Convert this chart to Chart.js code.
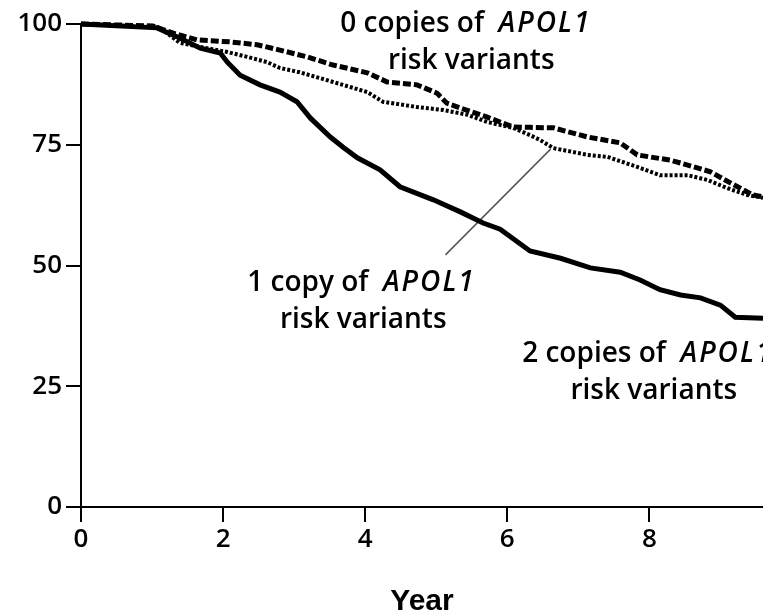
<!DOCTYPE html>
<html>
<head>
<meta charset="utf-8">
<script src="https://cdn.jsdelivr.net/npm/chart.js@4/dist/chart.umd.min.js"></script>
<style>
  body { margin: 0; background: #fff; }
  #caja { width: 763px; height: 616px; position: relative; }
</style>
</head>
<body>
<div id="caja"><canvas id="grafico"></canvas></div>
<script>
// Ejes
const xTicks = [0, 2, 4, 6, 8];
const yTicks = [0, 25, 50, 75, 100];

// 0 copias (línea discontinua)
const anios0 = [0, 1.01, 1.30, 1.63, 2.10, 2.48, 2.80, 3.18, 3.55, 4.03, 4.31, 4.73, 5.01, 5.15, 5.34, 5.72, 6.08, 6.32, 6.65, 7.13, 7.59, 7.83, 8.30, 8.54, 8.86, 9.14, 9.46, 9.6];
const valores0 = [100, 99.6, 98.1, 96.7, 96.3, 95.7, 94.6, 93.2, 91.5, 89.9, 88, 87.4, 85.7, 83.6, 82.6, 80.7, 78.7, 78.6, 78.5, 76.6, 75.4, 72.9, 71.8, 70.8, 69.4, 67.1, 64.6, 64.2];

// 1 copia (línea punteada)
const anios1 = [0, 1.10, 1.39, 1.77, 2.06, 2.34, 2.62, 2.80, 3.08, 3.55, 4.03, 4.25, 4.73, 5.10, 5.44, 5.72, 6.08, 6.32, 6.46, 6.65, 7.13, 7.41, 7.83, 8.15, 8.54, 8.82, 9.10, 9.38, 9.6];
const valores1 = [100, 99.3, 96.1, 95, 94.2, 93.2, 92.1, 90.9, 90, 88, 85.9, 83.9, 82.8, 82.2, 81.2, 79.7, 78.5, 77, 76, 74.3, 72.9, 72.5, 70.4, 68.7, 68.7, 67.7, 66, 64.6, 64];

// 2 copias (línea continua)
const anios2 = [0, 1.07, 1.39, 1.68, 1.96, 2.06, 2.24, 2.52, 2.80, 3.04, 3.23, 3.51, 3.69, 3.89, 4.21, 4.49, 4.96, 5.34, 5.66, 5.90, 6.32, 6.75, 7.17, 7.59, 7.87, 8.15, 8.44, 8.72, 9.00, 9.21, 9.6];
const valores2 = [100, 99.2, 97.1, 95, 94, 92.1, 89.4, 87.4, 85.9, 83.9, 80.5, 76.6, 74.5, 72.3, 69.8, 66.3, 63.6, 61.1, 58.8, 57.5, 53, 51.5, 49.5, 48.6, 47, 45, 43.9, 43.3, 41.8, 39.3, 39.1];

// Línea guía de la etiqueta "1 copy"
const guiaX = [5.13, 6.61];
const guiaY = [52.2, 74.1];

// Etiquetas: [texto normal, texto en cursiva, año, valor]
const etiquetas = [
  ["0 copies of  ", "APOL1", 3.65, 100.0],
  ["risk variants", "", 4.32, 92.3],
  ["1 copy of  ", "APOL1", 2.34, 46.4],
  ["risk variants", "", 2.80, 38.7],
  ["2 copies of  ", "APOL1", 6.21, 31.7],
  ["risk variants", "", 6.89, 24.0]
];

function puntos(xs, ys) {
  return xs.map((x, i) => ({ x: x, y: ys[i] }));
}

const fuente = "'Open Sans', Lato, sans-serif";

// Plugin para dibujar las etiquetas de texto
const pluginEtiquetas = {
  id: 'etiquetas',
  afterDatasetsDraw(chart) {
    const ctx = chart.ctx;
    const sx = chart.scales.x;
    const sy = chart.scales.y;
    ctx.save();
    ctx.fillStyle = '#000';
    ctx.textBaseline = 'middle';
    ctx.textAlign = 'left';
    etiquetas.forEach(e => {
      let px = sx.getPixelForValue(e[2]);
      const py = sy.getPixelForValue(e[3]);
      ctx.letterSpacing = '0px';
      ctx.font = "600 28px " + fuente;
      ctx.fillText(e[0], px, py);
      px += ctx.measureText(e[0]).width;
      if (e[1]) {
        ctx.font = "italic 600 28px " + fuente;
        ctx.letterSpacing = '2px';
        ctx.fillText(e[1], px, py);
      }
    });
    ctx.restore();
  }
};

new Chart(document.getElementById("grafico"), {
  type: 'line',
  data: {
    datasets: [
      {
        label: '1 copy',
        data: puntos(anios1, valores1),
        borderColor: '#000',
        borderWidth: 4,
        borderDash: [3, 2],
        pointRadius: 0,
        fill: false,
        clip: false
      },
      {
        label: '0 copies',
        data: puntos(anios0, valores0),
        borderColor: '#000',
        borderWidth: 5,
        borderDash: [8, 3],
        pointRadius: 0,
        fill: false,
        clip: false
      },
      {
        label: '2 copies',
        data: puntos(anios2, valores2),
        borderColor: '#000',
        borderWidth: 5,
        pointRadius: 0,
        fill: false,
        clip: false
      },
      {
        label: 'guia',
        data: puntos(guiaX, guiaY),
        borderColor: '#555',
        borderWidth: 1.5,
        pointRadius: 0,
        fill: false
      }
    ]
  },
  options: {
    responsive: true,
    maintainAspectRatio: false,
    animation: false,
    layout: { padding: { top: 24, right: 0, bottom: 0, left: 0 } },
    plugins: {
      legend: { display: false },
      tooltip: { enabled: false }
    },
    scales: {
      x: {
        type: 'linear',
        min: 0,
        max: 9.6,
        afterBuildTicks: s => { s.ticks = xTicks.map(v => ({ value: v })); },
        afterFit: s => { s.height = 109; },
        border: { display: true, color: '#000', width: 2 },
        grid: { drawOnChartArea: false, drawTicks: true, tickLength: 15, color: '#000', lineWidth: 2 },
        ticks: { color: '#000', padding: 2, font: { family: "'Open Sans'", size: 26, weight: '600' } },
        title: { display: true, text: 'Year', color: '#000', padding: { top: 0, bottom: -4 }, font: { family: "'Liberation Sans'", size: 30, weight: 'bold' } }
      },
      y: {
        min: 0,
        max: 100,
        afterBuildTicks: s => { s.ticks = yTicks.map(v => ({ value: v })); },
        afterFit: s => { s.width = 81; },
        border: { display: true, color: '#000', width: 2 },
        grid: { drawOnChartArea: false, drawTicks: true, tickLength: 15, color: '#000', lineWidth: 2 },
        ticks: { color: '#000', padding: 4, font: { family: "'Open Sans'", size: 26, weight: '600' } }
      }
    }
  },
  plugins: [pluginEtiquetas]
});
</script>
</body>
</html>
